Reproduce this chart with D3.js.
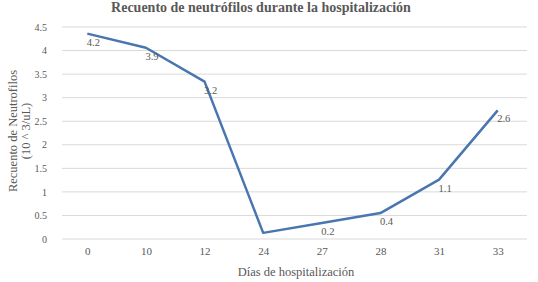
<!DOCTYPE html>
<html>
<head>
<meta charset="utf-8">
<script src="https://cdn.jsdelivr.net/npm/d3@7"></script>
<style>
  body { margin: 0; background: #fff; }
  text { font-family: "Liberation Serif", "DejaVu Serif", serif; fill: #595959; }
</style>
</head>
<body>
<div id="container"></div>
<script>
/* CONSTANTS AND GLOBALS */
const width = 538;
const height = 282;
const margin = { top: 27, right: 11, bottom: 43, left: 58 };

/* DATA */
const days = ["0", "10", "12", "24", "27", "28", "31", "33"];
const counts = [4.36, 4.06, 3.34, 0.13, 0.34, 0.55, 1.26, 2.73];
const pointLabels = ["4.2", "3.9", "3.2", "", "0.2", "0.4", "1.1", "2.6"];
const yTicks = [0, 0.5, 1, 1.5, 2, 2.5, 3, 3.5, 4, 4.5];

const svg = d3.select("#container").append("svg")
  .attr("width", width)
  .attr("height", height);

/* SCALES */
const xScale = d3.scalePoint()
  .domain(days)
  .range([margin.left, width - margin.right])
  .padding(0.5);

const yScale = d3.scaleLinear()
  .domain([0, 4.5])
  .range([height - margin.bottom, margin.top]);

// gridlines
svg.append("g")
  .selectAll("line")
  .data(yTicks)
  .join("line")
  .attr("x1", margin.left + 4)
  .attr("x2", width - margin.right)
  .attr("y1", d => yScale(d))
  .attr("y2", d => yScale(d))
  .attr("stroke", "#d9d9d9")
  .attr("stroke-width", 1);

// y axis labels
const yAxis = d3.axisLeft(yScale)
  .tickValues(yTicks)
  .tickFormat(d3.format("~g"))
  .tickSize(0)
  .tickPadding(11);
svg.append("g")
  .attr("transform", `translate(${margin.left}, 0)`)
  .call(yAxis)
  .call(g => g.select(".domain").remove())
  .selectAll("text")
  .style("font-size", "10px")
  .attr("fill", "#595959");

// x axis labels
const xAxis = d3.axisBottom(xScale).tickSize(0).tickPadding(8);
svg.append("g")
  .attr("transform", `translate(0, ${height - margin.bottom})`)
  .call(xAxis)
  .call(g => g.select(".domain").remove())
  .selectAll("text")
  .style("font-size", "11px")
  .attr("fill", "#595959");

/* LINE */
const line = d3.line()
  .x((d, i) => xScale(days[i]))
  .y(d => yScale(d));

svg.append("path")
  .datum(counts)
  .attr("fill", "none")
  .attr("stroke", "#4a76b0")
  .attr("stroke-width", 2.5)
  .attr("stroke-linejoin", "round")
  .attr("d", line);

// data labels
svg.append("g")
  .selectAll("text")
  .data(counts)
  .join("text")
  .attr("x", (d, i) => xScale(days[i]) + 6)
  .attr("y", d => yScale(d) + 12)
  .attr("text-anchor", "middle")
  .style("font-size", "10.5px")
  .attr("fill", "#404040")
  .text((d, i) => pointLabels[i]);

/* TITLES */
svg.append("text")
  .attr("x", 261)
  .attr("y", 12)
  .attr("text-anchor", "middle")
  .style("font-size", "14px")
  .style("font-weight", "bold")
  .text("Recuento de neutrófilos durante la hospitalización");

svg.append("text")
  .attr("x", 296)
  .attr("y", 276)
  .attr("text-anchor", "middle")
  .style("font-size", "12.5px")
  .text("Días de hospitalización");

const yTitle = svg.append("text")
  .attr("transform", "translate(0, 131) rotate(-90)")
  .attr("text-anchor", "middle")
  .style("font-size", "12.5px");
yTitle.append("tspan").attr("x", 0).attr("y", 17).text("Recuento de Neutrofilos");
yTitle.append("tspan").attr("x", 0).attr("y", 30).text("(10 ^ 3/uL)");
</script>
</body>
</html>
